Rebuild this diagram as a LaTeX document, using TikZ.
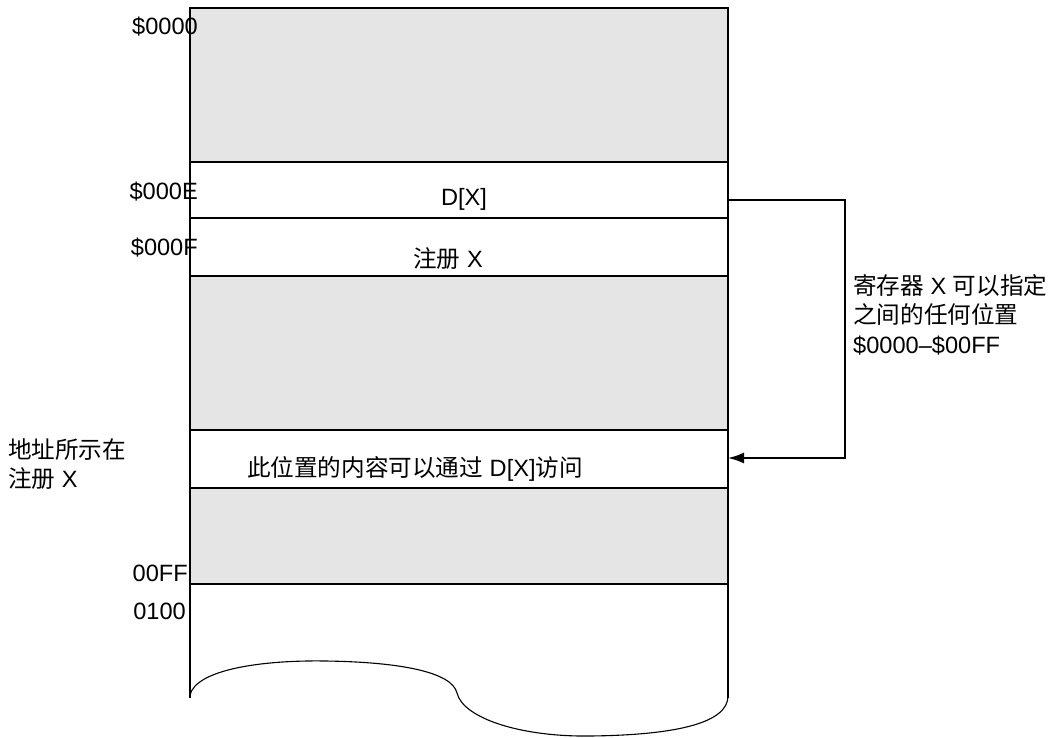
\documentclass[tikz,border=0pt]{standalone}
\usepackage{fontspec}
\setmainfont{Liberation Sans}
\newfontfamily\cjk{Noto Sans CJK SC}
\usetikzlibrary{arrows.meta}
\definecolor{memgray}{HTML}{E5E5E5}
\begin{document}
\begin{tikzpicture}[x=1pt,y=-1pt,
  row/.style={draw, line width=1.8pt, anchor=north west, minimum width=538pt, inner sep=0pt, outer sep=0pt},
  grayrow/.style={row, fill=memgray},
  whiterow/.style={row, fill=white},
  lbl/.style={inner sep=0pt, font=\fontsize{23.6}{29.5}\selectfont},
  addr/.style={lbl, anchor=east},
  conn/.style={line width=1.8pt, -{Latex[length=16pt,width=11pt]}}]
\useasboundingbox (0,0) rectangle (1050,738);
% bottom open region
\draw[line width=1.8pt] (190,584) -- (190,698);
\draw[line width=1.8pt] (728,584) -- (728,698);
\draw[line width=1.1pt] (190,695) .. controls (196,670) and (260,660) .. (325,661)
  .. controls (400,662) and (452,672) .. (457,693)
  .. controls (463,718) and (520,737) .. (590,736)
  .. controls (680,735) and (728,722) .. (728,696);
% rows
\node[grayrow, minimum height=154pt] (r0) at (190,8) {};
\node[whiterow, minimum height=56pt] (rE) at (190,162) {};
\node[whiterow, minimum height=58pt] (rF) at (190,218) {};
\node[grayrow, minimum height=154pt] (r1) at (190,276) {};
\node[whiterow, minimum height=58pt] (rX) at (190,430) {};
\node[grayrow, minimum height=96pt] (r2) at (190,488) {};
% row texts
\node[lbl] (tE) at (464,199) {D[X]};
\node[lbl] (tF) at (448,259) {{\cjk 注册} X};
\node[lbl] (tX) at (415,469) {{\cjk 此位置的内容可以通过} D[X]{\cjk 访问}};
% addresses
\node[addr] (a0) at (198,27) {\$0000};
\node[addr] (aE) at (198,192) {\$000E};
\node[addr] (aF) at (198,248) {\$000F};
\node[addr] (aFF) at (188,573) {00FF};
\node[addr] (a100) at (186,611) {0100};
% side notes
\node[lbl, anchor=north west, align=left] (nL) at (8,438) {{\cjk 地址所示在}\\{\cjk 注册} X};
\node[lbl, anchor=north west, align=left] (nR) at (853,274) {{\cjk 寄存器} X {\cjk 可以指定}\\{\cjk 之间的任何位置}\\\$0000–\$00FF};
% connector
\draw[conn] ([yshift=-38pt]rE.north east) -- (845,200) |- ([yshift=-28pt]rX.north east);
\end{tikzpicture}
\end{document}
